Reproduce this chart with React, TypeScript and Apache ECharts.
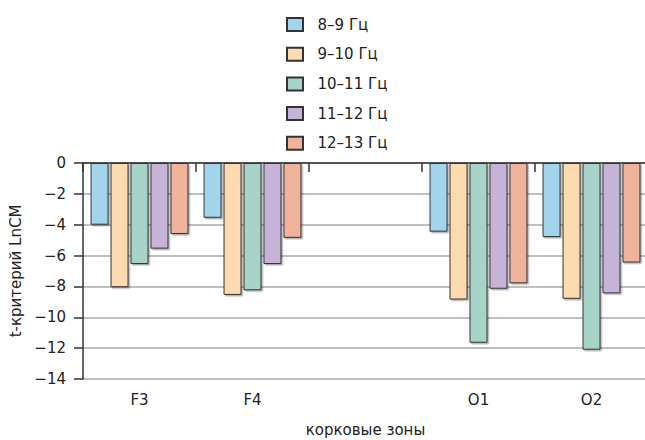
import React, { useEffect, useRef } from "react";
import * as echarts from "echarts";

const categories = ["F3", "F4", "", "O1", "O2"];
const seriesNames = ["8–9 Гц", "9–10 Гц", "10–11 Гц", "11–12 Гц", "12–13 Гц"];
const band8to9 = [-4.0, -3.55, null, -4.45, -4.8];
const band9to10 = [-8.05, -8.55, null, -8.85, -8.8];
const band10to11 = [-6.55, -8.25, null, -11.65, -12.1];
const band11to12 = [-5.55, -6.55, null, -8.15, -8.45];
const band12to13 = [-4.6, -4.85, null, -7.8, -6.45];
const colors = ["#A2D4EC", "#FDDBB0", "#A8D3C8", "#C5B3D8", "#EFB39C"];

const FONT = "'DejaVu Sans', sans-serif";

export default function App() {
  const ref = useRef<HTMLDivElement>(null);
  useEffect(() => {
    document.body.style.margin = "0";
    if (!ref.current) return;
    const chart = echarts.init(ref.current, undefined, { renderer: "svg" });
    const values = [band8to9, band9to10, band10to11, band11to12, band12to13];
    chart.setOption({
      animation: false,
      textStyle: { fontFamily: FONT },
      legend: {
        orient: "vertical",
        left: 286,
        top: 17,
        padding: 0,
        itemWidth: 16,
        itemHeight: 13,
        itemGap: 14.7,
        icon: "rect",
        formatter: (name: string) => "\u00A0\u00A0" + name,
        textStyle: { fontSize: 15, color: "#222", fontFamily: FONT },
        data: seriesNames,
      },
      grid: {
        left: 83,
        top: 163,
        width: 565,
        height: 216,
        containLabel: false,
        outerBoundsMode: "none",
      },
      xAxis: [
        {
          type: "category",
          position: "top",
          data: categories,
          axisLine: { onZero: true, lineStyle: { color: "#333", width: 1.5 } },
          axisTick: { show: true, inside: true, length: 9, interval: 0, lineStyle: { color: "#333", width: 1.5 } },
          axisLabel: { show: false },
          splitLine: { show: false },
        },
        {
          type: "category",
          position: "bottom",
          data: categories,
          axisLine: { show: false, onZero: false },
          axisTick: { show: false },
          axisLabel: { margin: 13, fontSize: 15, color: "#222", fontFamily: FONT, interval: 0 },
          splitLine: { show: false },
          name: "корковые зоны",
          nameLocation: "middle",
          nameGap: 43,
          nameTextStyle: { fontSize: 15, color: "#222", fontFamily: FONT },
        },
      ],
      yAxis: {
        type: "value",
        min: -14,
        max: 0,
        interval: 2,
        axisLine: { show: true, onZero: false, lineStyle: { color: "#333", width: 1.5 } },
        axisTick: { show: true, length: 9, lineStyle: { color: "#333", width: 1.5 } },
        axisLabel: {
          margin: 17,
          fontSize: 15,
          color: "#222",
          fontFamily: FONT,
          formatter: (v: number) => (v < 0 ? "\u2212" + Math.abs(v) : String(v)),
        },
        splitLine: { show: true, lineStyle: { color: "#aaa", width: 1.5 } },
        name: "t-критерий LnCM",
        nameLocation: "middle",
        nameGap: 50,
        nameTextStyle: { fontSize: 15, color: "#222", fontFamily: FONT },
      },
      series: values.map((d, i) => ({
        type: "bar",
        name: seriesNames[i],
        data: d,
        xAxisIndex: 0,
        barWidth: 18,
        barGap: "11%",
        itemStyle: {
          color: colors[i],
          borderColor: "#333",
          borderWidth: 1,
          shadowColor: "rgba(0,0,0,0.3)",
          shadowOffsetX: 1.5,
          shadowOffsetY: 1.5,
          shadowBlur: 1,
        },
      })),
    });
    return () => chart.dispose();
  }, []);
  return <div ref={ref} style={{ width: 645, height: 440 }} />;
}
